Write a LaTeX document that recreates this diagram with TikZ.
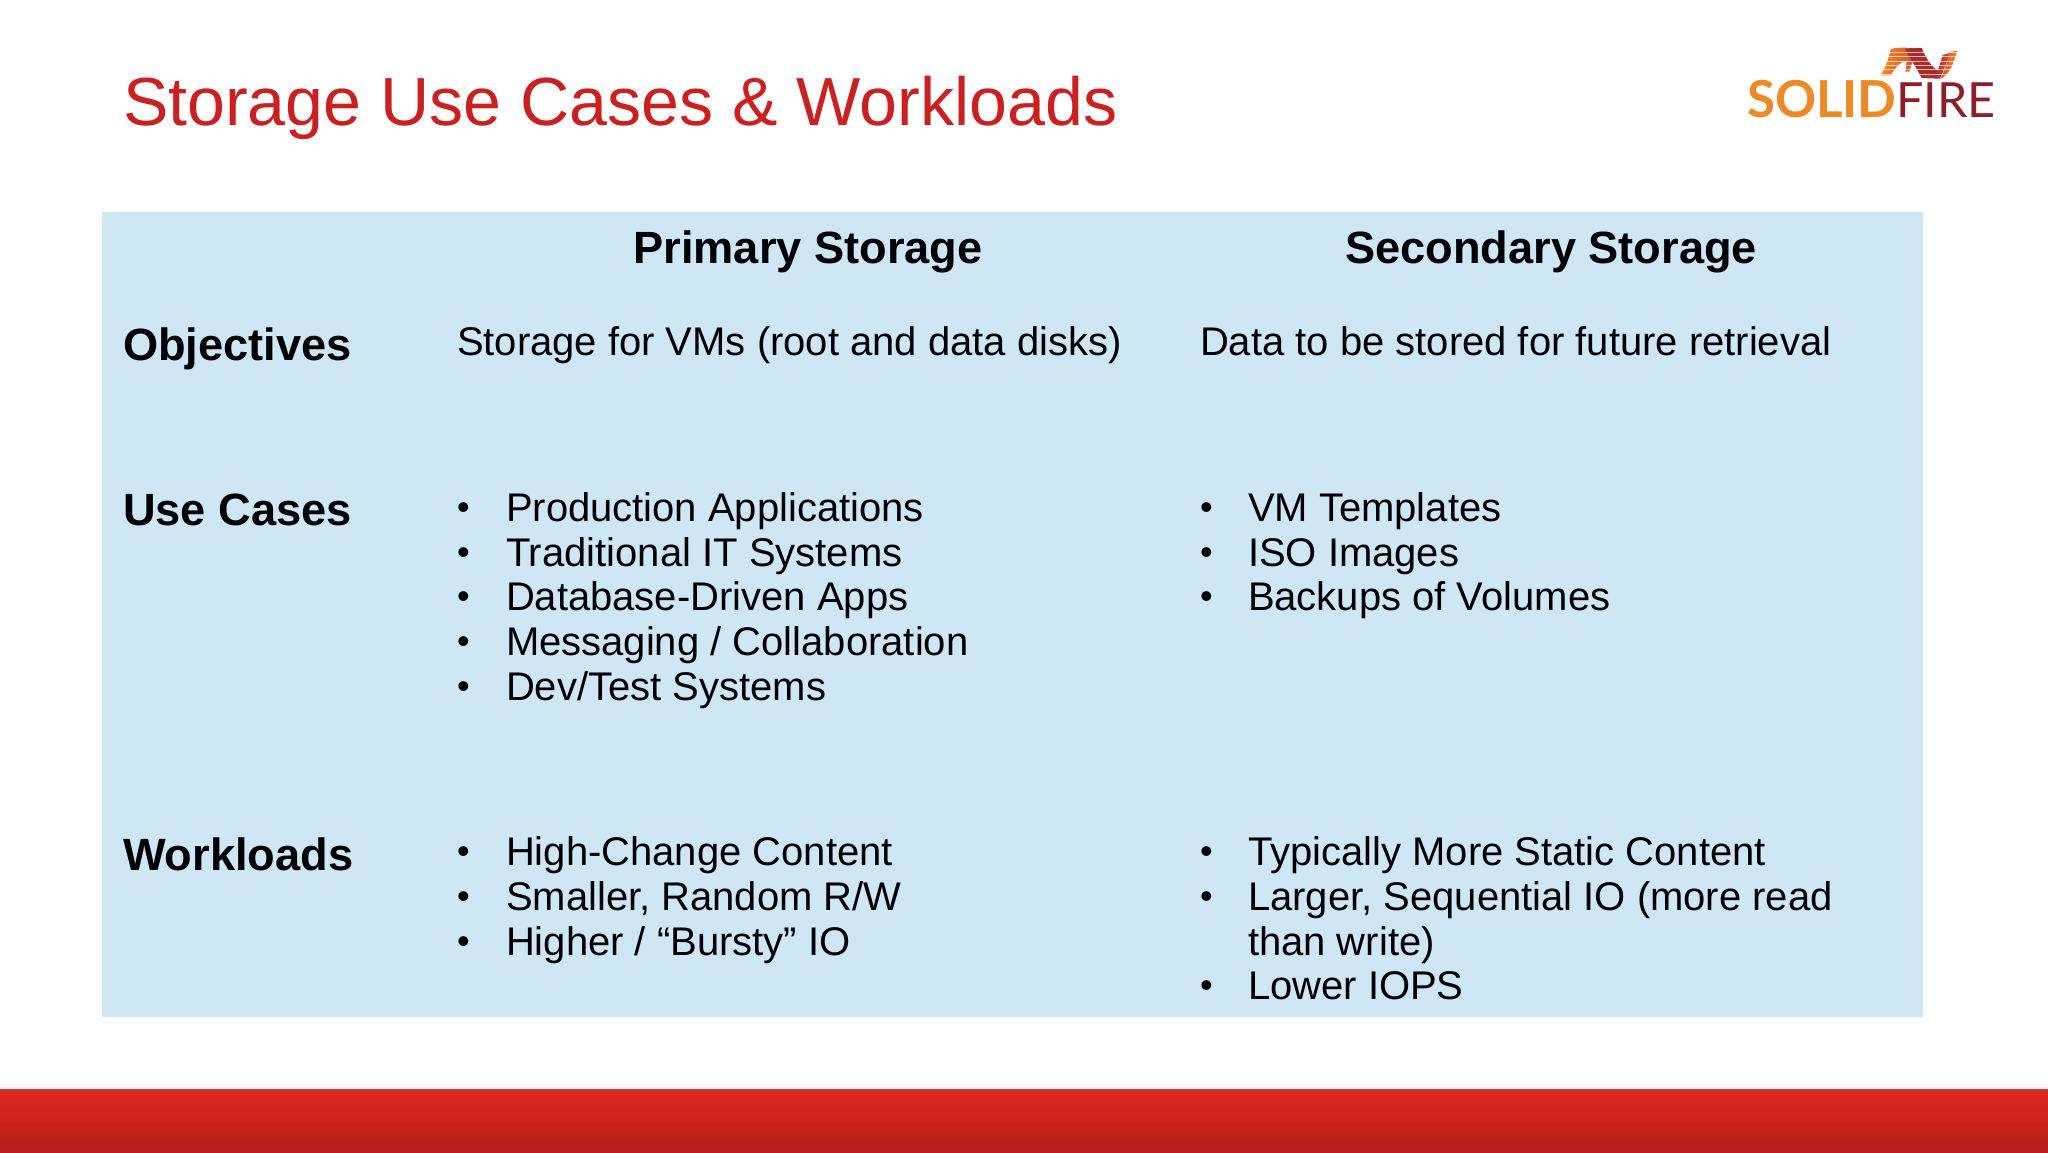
\documentclass[tikz,border=0pt]{standalone}
\usepackage{fontspec}
\setmainfont{Liberation Sans}
\newfontfamily\logofont{Lato}
\definecolor{titlered}{HTML}{CC1F1F}
\definecolor{panelblue}{HTML}{CFE6F5}
\definecolor{barA}{HTML}{E0261F}
\definecolor{barB}{HTML}{B51F1A}
\definecolor{logoO}{HTML}{EE8A25}
\definecolor{logoR}{HTML}{A82C2C}
\definecolor{logoF}{HTML}{8E1F28}
\definecolor{logoM}{HTML}{D9502B}
\tikzset{
  x=1pt,y=-1pt,
  txt/.style={anchor=base west,inner sep=0pt,outer sep=0pt,text=black},
  body/.style={txt,font=\fontsize{40}{44.8}\selectfont},
  bulletmark/.style={txt,font=\fontsize{36}{44.8}\selectfont,yshift=1.5pt},
  head/.style={txt,font=\fontsize{45.2}{50}\selectfont\bfseries},
  colhead/.style={head,anchor=base},
  logotext/.style={anchor=base west,inner sep=0pt,outer sep=0pt},
  slit/.style={draw=white,line width=0.35pt,opacity=0.65}
}
\begin{document}
\begin{tikzpicture}
\useasboundingbox (0,0) rectangle (2048,1152);
\fill[white] (0,0) rectangle (2048,1152);
\fill[panelblue] (102,212) rectangle (1923,1017);
\fill[black!8] (0,1087) rectangle (2048,1089);
\fill[barB!60!gray] (0,1089) rectangle (2048,1091);
\shade[top color=barA,bottom color=barB] (0,1091) rectangle (2048,1152);
\node[txt,text=titlered,font=\fontsize{68.1}{72}\selectfont] (title) at (123,125) {Storage Use Cases \& Workloads};
\node[colhead] (prim) at (808,263) {Primary Storage};
\node[colhead] (sec) at (1551,263) {Secondary Storage};
\node[head] (obj) at (123,360) {Objectives};
\node[head] (uc) at (123,525) {Use Cases};
\node[head] (wl) at (123,870) {Workloads};
\node[body] (o1) at (457,355) {Storage for VMs (root and data disks)};
\node[body] (o2) at (1200,355) {Data to be stored for future retrieval};
\foreach \n/\y/\t in {a/521/{Production Applications},b/566/{Traditional IT Systems},c/610/{Database-Driven Apps},d/655/{Messaging / Collaboration},e/700/{Dev/Test Systems},f/865/{High-Change Content},g/910/{Smaller, Random R/W},h/955/{Higher / “Bursty” IO}}{
  \node[bulletmark] (b\n) at (457,\y) {•};
  \node[body] (t\n) at (506,\y) {\t};
}
\foreach \n/\y/\t in {a/521/{VM Templates},b/566/{ISO Images},c/610/{Backups of Volumes},f/865/{Typically More Static Content},g/910/{Larger, Sequential IO (more read},i/999/{Lower IOPS}}{
  \node[bulletmark] (sb\n) at (1200,\y) {•};
  \node[body] (st\n) at (1248,\y) {\t};
}
\node[body] (sth) at (1248,955) {than write)};
% logo
\node[logotext,text=logoO,font=\fontsize{51}{51}\logofont\bfseries\selectfont] (solid) at (1747,117) {SOLID};
\node[logotext,text=logoF,font=\fontsize{48.5}{50}\logofont\selectfont] (fire) at (1896,117) {FIRE};
\begin{scope}[shift={(1720,30)},x=0.3333pt,y=-0.3333pt]
  \shade[left color=logoO,right color=logoM] (482,136) -- (512,136) .. controls (535,100) and (548,92) .. (560,92) -- (556,125) -- (568,125) -- (590,55) .. controls (550,52) and (525,52) .. (512,58) .. controls (505,90) and (495,115) .. (482,136) -- cycle;
  \fill[logoR] (555,56) -- (605,54) .. controls (620,90) and (640,120) .. (665,128) -- (655,146) -- (605,144) .. controls (590,115) and (570,85) .. (555,56) -- cycle;
  \shade[left color=logoR,right color=logoM] (640,142) -- (660,146) .. controls (672,120) and (680,95) .. (692,68) -- (668,75) .. controls (660,100) and (655,125) .. (640,142) -- cycle;
  \shade[left color=logoM,right color=logoO] (660,146) .. controls (690,135) and (700,100) .. (712,62) -- (688,66) .. controls (682,95) and (675,125) .. (660,146) -- cycle;
  \foreach \y in {67,80,93,106,119,132}{\draw[slit] (470,\y) -- (720,\y);}
\end{scope}
\end{tikzpicture}
\end{document}
